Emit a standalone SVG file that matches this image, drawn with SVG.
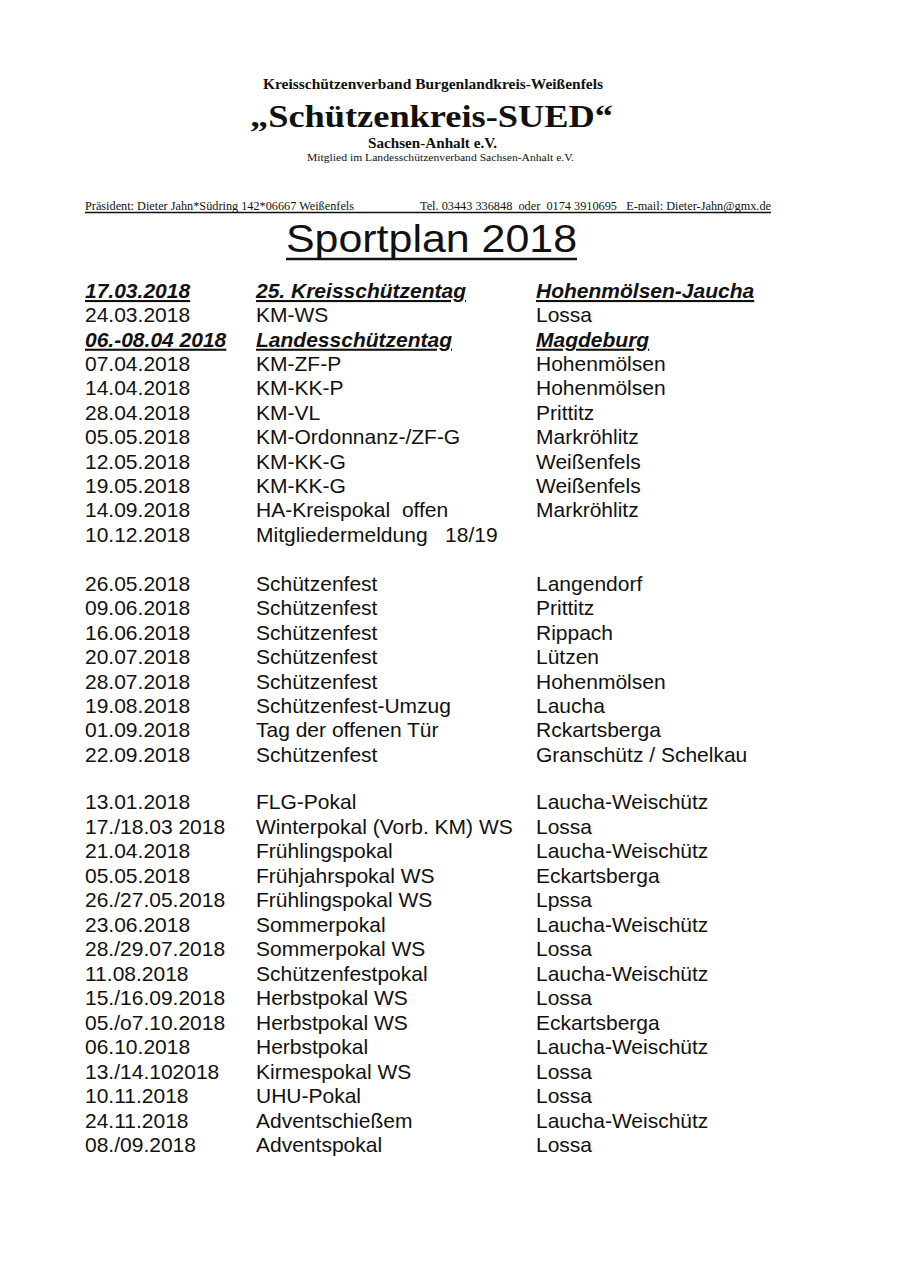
<svg xmlns="http://www.w3.org/2000/svg" width="905" height="1280" viewBox="0 0 905 1280">
<style>
.hd{font-family:"Liberation Serif","Times New Roman",serif;fill:#111}
.b{font-weight:bold}
.t{font-family:"Liberation Sans",Arial,sans-serif;font-size:21px;fill:#111}
.bi{font-weight:bold;font-style:italic;text-decoration:underline}
.ul{stroke:#111;stroke-width:1.3}
</style>
<rect width="905" height="1280" fill="#fff"/>
<g id="header">
<text class="hd b" x="263" y="89" font-size="14" textLength="340" lengthAdjust="spacingAndGlyphs">Kreisschützenverband Burgenlandkreis-Weißenfels</text>
<text class="hd b" x="250" y="127" font-size="31" textLength="363" lengthAdjust="spacingAndGlyphs">„Schützenkreis-SUED“</text>
<text class="hd b" x="368" y="148" font-size="14" textLength="129" lengthAdjust="spacingAndGlyphs">Sachsen-Anhalt e.V.</text>
<text class="hd" x="307" y="161" font-size="10.5" textLength="267" lengthAdjust="spacingAndGlyphs">Mitglied im Landesschützenverband Sachsen-Anhalt e.V.</text>
<text class="hd" x="85" y="210" font-size="11.5" textLength="269" lengthAdjust="spacingAndGlyphs">Präsident: Dieter Jahn*Südring 142*06667 Weißenfels</text>
<text class="hd" x="420" y="210" font-size="11.5" textLength="351" lengthAdjust="spacingAndGlyphs" xml:space="preserve">Tel. 03443 336848  oder  0174 3910695   E-mail: Dieter-Jahn@gmx.de</text>
<line class="ul" x1="85" y1="212.5" x2="771" y2="212.5"/>
</g>
<g id="title">
<text x="286" y="252" font-family="Liberation Sans, Arial, sans-serif" font-size="38" fill="#111" textLength="291" lengthAdjust="spacingAndGlyphs">Sportplan 2018</text>
<line x1="286" y1="259" x2="577" y2="259" stroke="#111" stroke-width="2.5"/>
</g>
<g id="section1" class="t">
<text class="bi" x="85" y="298">17.03.2018</text><text class="bi" x="256" y="298">25. Kreisschützentag</text><text class="bi" x="536" y="298">Hohenmölsen-Jaucha</text>
<text x="85" y="322.4">24.03.2018</text><text x="256" y="322.4">KM-WS</text><text x="536" y="322.4">Lossa</text>
<text class="bi" x="85" y="346.7">06.-08.04 2018</text><text class="bi" x="256" y="346.7">Landesschützentag</text><text class="bi" x="536" y="346.7">Magdeburg</text>
<text x="85" y="371.1">07.04.2018</text><text x="256" y="371.1">KM-ZF-P</text><text x="536" y="371.1">Hohenmölsen</text>
<text x="85" y="395.4">14.04.2018</text><text x="256" y="395.4">KM-KK-P</text><text x="536" y="395.4">Hohenmölsen</text>
<text x="85" y="419.8">28.04.2018</text><text x="256" y="419.8">KM-VL</text><text x="536" y="419.8">Prittitz</text>
<text x="85" y="444.1">05.05.2018</text><text x="256" y="444.1">KM-Ordonnanz-/ZF-G</text><text x="536" y="444.1">Markröhlitz</text>
<text x="85" y="468.5">12.05.2018</text><text x="256" y="468.5">KM-KK-G</text><text x="536" y="468.5">Weißenfels</text>
<text x="85" y="492.8">19.05.2018</text><text x="256" y="492.8">KM-KK-G</text><text x="536" y="492.8">Weißenfels</text>
<text x="85" y="517.2">14.09.2018</text><text x="256" y="517.2" xml:space="preserve">HA-Kreispokal  offen</text><text x="536" y="517.2">Markröhlitz</text>
<text x="85" y="541.5">10.12.2018</text><text x="256" y="541.5" xml:space="preserve">Mitgliedermeldung   18/19</text>
</g>
<g id="section2" class="t">
<text x="85" y="591">26.05.2018</text><text x="256" y="591">Schützenfest</text><text x="536" y="591">Langendorf</text>
<text x="85" y="615.4">09.06.2018</text><text x="256" y="615.4">Schützenfest</text><text x="536" y="615.4">Prittitz</text>
<text x="85" y="639.8">16.06.2018</text><text x="256" y="639.8">Schützenfest</text><text x="536" y="639.8">Rippach</text>
<text x="85" y="664.2">20.07.2018</text><text x="256" y="664.2">Schützenfest</text><text x="536" y="664.2">Lützen</text>
<text x="85" y="688.6">28.07.2018</text><text x="256" y="688.6">Schützenfest</text><text x="536" y="688.6">Hohenmölsen</text>
<text x="85" y="713">19.08.2018</text><text x="256" y="713">Schützenfest-Umzug</text><text x="536" y="713">Laucha</text>
<text x="85" y="737.4">01.09.2018</text><text x="256" y="737.4">Tag der offenen Tür</text><text x="536" y="737.4">Rckartsberga</text>
<text x="85" y="761.8">22.09.2018</text><text x="256" y="761.8">Schützenfest</text><text x="536" y="761.8">Granschütz / Schelkau</text>
</g>
<g id="section3" class="t">
<text x="85" y="809">13.01.2018</text><text x="256" y="809">FLG-Pokal</text><text x="536" y="809">Laucha-Weischütz</text>
<text x="85" y="833.5">17./18.03 2018</text><text x="256" y="833.5">Winterpokal (Vorb. KM) WS</text><text x="536" y="833.5">Lossa</text>
<text x="85" y="858">21.04.2018</text><text x="256" y="858">Frühlingspokal</text><text x="536" y="858">Laucha-Weischütz</text>
<text x="85" y="882.5">05.05.2018</text><text x="256" y="882.5">Frühjahrspokal WS</text><text x="536" y="882.5">Eckartsberga</text>
<text x="85" y="907">26./27.05.2018</text><text x="256" y="907">Frühlingspokal WS</text><text x="536" y="907">Lpssa</text>
<text x="85" y="931.5">23.06.2018</text><text x="256" y="931.5">Sommerpokal</text><text x="536" y="931.5">Laucha-Weischütz</text>
<text x="85" y="956">28./29.07.2018</text><text x="256" y="956">Sommerpokal WS</text><text x="536" y="956">Lossa</text>
<text x="85" y="980.5">11.08.2018</text><text x="256" y="980.5">Schützenfestpokal</text><text x="536" y="980.5">Laucha-Weischütz</text>
<text x="85" y="1005">15./16.09.2018</text><text x="256" y="1005">Herbstpokal WS</text><text x="536" y="1005">Lossa</text>
<text x="85" y="1029.5">05./o7.10.2018</text><text x="256" y="1029.5">Herbstpokal WS</text><text x="536" y="1029.5">Eckartsberga</text>
<text x="85" y="1054">06.10.2018</text><text x="256" y="1054">Herbstpokal</text><text x="536" y="1054">Laucha-Weischütz</text>
<text x="85" y="1078.5">13./14.102018</text><text x="256" y="1078.5">Kirmespokal WS</text><text x="536" y="1078.5">Lossa</text>
<text x="85" y="1103">10.11.2018</text><text x="256" y="1103">UHU-Pokal</text><text x="536" y="1103">Lossa</text>
<text x="85" y="1127.5">24.11.2018</text><text x="256" y="1127.5">Adventschießem</text><text x="536" y="1127.5">Laucha-Weischütz</text>
<text x="85" y="1152">08./09.2018</text><text x="256" y="1152">Adventspokal</text><text x="536" y="1152">Lossa</text>
</g>
</svg>
